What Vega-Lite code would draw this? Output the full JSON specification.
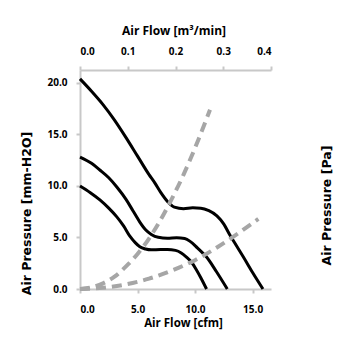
{
  "$schema": "https://vega.github.io/schema/vega-lite/v6.json",
  "autosize": "none",
  "width": 191,
  "height": 219,
  "padding": {"left": 80, "top": 70, "right": 84, "bottom": 66},
  "background": "white",
  "config": {
    "view": {"stroke": null},
    "axis": {
      "labelFont": "Open Sans",
      "labelFontWeight": "bold",
      "labelFontSize": 10,
      "labelColor": "#000000",
      "titleFont": "Open Sans",
      "titleFontWeight": "bold",
      "titleFontSize": 11.5,
      "titleColor": "#000000",
      "domainColor": "#c8c8c8",
      "domainWidth": 2,
      "tickColor": "#c8c8c8",
      "tickWidth": 2,
      "tickSize": 4,
      "gridColor": "#d9d9d9",
      "gridWidth": 1.5
    }
  },
  "datasets": {
    "fan": [
      {"s": "A", "cfm": 0, "p": 20.4}, {"s": "A", "cfm": 1, "p": 19.2}, {"s": "A", "cfm": 2, "p": 17.9},
      {"s": "A", "cfm": 3, "p": 16.4}, {"s": "A", "cfm": 4, "p": 14.7}, {"s": "A", "cfm": 5, "p": 12.9},
      {"s": "A", "cfm": 6, "p": 11.1}, {"s": "A", "cfm": 6.5, "p": 10.3}, {"s": "A", "cfm": 7, "p": 9.4},
      {"s": "A", "cfm": 7.6, "p": 8.5}, {"s": "A", "cfm": 8.2, "p": 7.95}, {"s": "A", "cfm": 9, "p": 7.8},
      {"s": "A", "cfm": 9.8, "p": 7.88}, {"s": "A", "cfm": 10.5, "p": 7.85}, {"s": "A", "cfm": 11.2, "p": 7.6},
      {"s": "A", "cfm": 11.9, "p": 7.1}, {"s": "A", "cfm": 12.5, "p": 6.3}, {"s": "A", "cfm": 13, "p": 5.3},
      {"s": "A", "cfm": 13.6, "p": 4.2}, {"s": "A", "cfm": 14.2, "p": 3.1}, {"s": "A", "cfm": 15, "p": 1.6},
      {"s": "A", "cfm": 15.9, "p": 0},
      {"s": "B", "cfm": 0, "p": 12.8}, {"s": "B", "cfm": 1, "p": 12.2}, {"s": "B", "cfm": 1.73, "p": 11.55},
      {"s": "B", "cfm": 2.5, "p": 10.8}, {"s": "B", "cfm": 3.2, "p": 9.9}, {"s": "B", "cfm": 4, "p": 8.7},
      {"s": "B", "cfm": 4.6, "p": 7.6}, {"s": "B", "cfm": 5.2, "p": 6.5}, {"s": "B", "cfm": 5.7, "p": 5.75},
      {"s": "B", "cfm": 6.2, "p": 5.3}, {"s": "B", "cfm": 6.8, "p": 5.02}, {"s": "B", "cfm": 7.6, "p": 4.93},
      {"s": "B", "cfm": 8.4, "p": 4.97}, {"s": "B", "cfm": 9.1, "p": 4.9}, {"s": "B", "cfm": 9.6, "p": 4.6},
      {"s": "B", "cfm": 10.2, "p": 4.0}, {"s": "B", "cfm": 11, "p": 3.1}, {"s": "B", "cfm": 11.85, "p": 1.7},
      {"s": "B", "cfm": 12.8, "p": 0},
      {"s": "C", "cfm": 0, "p": 10.0}, {"s": "C", "cfm": 0.9, "p": 9.35}, {"s": "C", "cfm": 1.73, "p": 8.65},
      {"s": "C", "cfm": 2.5, "p": 7.85}, {"s": "C", "cfm": 3.2, "p": 7.0}, {"s": "C", "cfm": 3.8, "p": 6.1},
      {"s": "C", "cfm": 4.35, "p": 5.1}, {"s": "C", "cfm": 4.8, "p": 4.5}, {"s": "C", "cfm": 5.2, "p": 4.1},
      {"s": "C", "cfm": 5.7, "p": 3.88}, {"s": "C", "cfm": 6.2, "p": 3.8}, {"s": "C", "cfm": 7, "p": 3.84},
      {"s": "C", "cfm": 7.6, "p": 3.84}, {"s": "C", "cfm": 8.3, "p": 3.75}, {"s": "C", "cfm": 8.8, "p": 3.5},
      {"s": "C", "cfm": 9.25, "p": 3.1}, {"s": "C", "cfm": 9.7, "p": 2.6}, {"s": "C", "cfm": 10.1, "p": 1.9},
      {"s": "C", "cfm": 10.5, "p": 1.1}, {"s": "C", "cfm": 11.0, "p": 0}
    ],
    "sys": [
      {"s": "D", "cfm": 0, "p": 0}, {"s": "D", "cfm": 1, "p": 0.15}, {"s": "D", "cfm": 2, "p": 0.55},
      {"s": "D", "cfm": 3, "p": 1.2}, {"s": "D", "cfm": 4, "p": 2.2}, {"s": "D", "cfm": 5, "p": 3.4},
      {"s": "D", "cfm": 6, "p": 4.9}, {"s": "D", "cfm": 7, "p": 6.7}, {"s": "D", "cfm": 8, "p": 8.8},
      {"s": "D", "cfm": 9, "p": 11.1}, {"s": "D", "cfm": 10, "p": 13.7}, {"s": "D", "cfm": 11.3, "p": 17.4},
      {"s": "E", "cfm": 0, "p": 0}, {"s": "E", "cfm": 2, "p": 0.12}, {"s": "E", "cfm": 4, "p": 0.45},
      {"s": "E", "cfm": 6, "p": 1.0}, {"s": "E", "cfm": 8, "p": 1.8}, {"s": "E", "cfm": 10, "p": 2.8},
      {"s": "E", "cfm": 12, "p": 4.1}, {"s": "E", "cfm": 14, "p": 5.6}, {"s": "E", "cfm": 15.5, "p": 6.8}
    ],
    "sec": [{"m": 0, "pa": 0}, {"m": 0.4, "pa": 1}]
  },
  "layer": [
    {
      "data": {"name": "sec"},
      "mark": {"type": "point", "opacity": 0},
      "encoding": {
        "x": {
          "field": "m", "type": "quantitative",
          "scale": {"domain": [0, 0.4], "nice": false, "zero": false},
          "axis": {
            "orient": "top", "values": [0, 0.1, 0.2, 0.3, 0.4], "format": ".1f",
            "grid": false, "labelPadding": 10, "title": "Air Flow [m³/min]", "titleFontSize": 12,
            "titleX": 93.5, "titleY": -40, "titleBaseline": "middle", "titleAlign": "center"
          }
        },
        "y": {
          "field": "pa", "type": "quantitative",
          "scale": {"domain": [0, 1]},
          "axis": {
            "orient": "right", "labels": false, "ticks": false, "domain": false, "grid": false,
            "title": "Air Pressure [Pa]", "titleFont": "DejaVu Sans", "titleFontSize": 12.5,
            "titleAngle": 270, "titleX": 55, "titleY": 135,
            "titleBaseline": "middle", "titleAlign": "center"
          }
        }
      }
    },
    {
      "layer": [
        {
          "data": {"name": "fan"},
          "mark": {"type": "line", "interpolate": "monotone", "color": "#000000", "strokeWidth": 3},
          "encoding": {
            "x": {
              "field": "cfm", "type": "quantitative",
              "scale": {"domain": [0, 16.6], "nice": false},
              "axis": {
                "orient": "bottom", "values": [0, 5, 10, 15], "format": ".1f",
                "labelPadding": 11, "title": "Air Flow [cfm]",
                "titleX": 103, "titleY": 34, "titleBaseline": "middle", "titleAlign": "center"
              }
            },
            "y": {
              "field": "p", "type": "quantitative",
              "scale": {"domain": [0, 21.26], "nice": false},
              "axis": {
                "orient": "left", "values": [0, 5, 10, 15, 20], "format": ".1f",
                "labelPadding": 9, "title": "Air Pressure [mm-H2O]",
                "titleFont": "DejaVu Sans", "titleFontSize": 12.5, "titleAngle": 270,
                "titleX": -54, "titleY": 143, "titleBaseline": "middle", "titleAlign": "center"
              }
            },
            "detail": {"field": "s"}
          }
        },
        {
          "data": {"name": "sys"},
          "mark": {"type": "line", "interpolate": "monotone", "color": "#a6a6a6", "strokeWidth": 4, "strokeDash": [10, 6]},
          "encoding": {
            "x": {"field": "cfm", "type": "quantitative"},
            "y": {"field": "p", "type": "quantitative"},
            "detail": {"field": "s"}
          }
        }
      ]
    }
  ],
  "resolve": {"scale": {"x": "independent", "y": "independent"}, "axis": {"x": "independent", "y": "independent"}}
}
